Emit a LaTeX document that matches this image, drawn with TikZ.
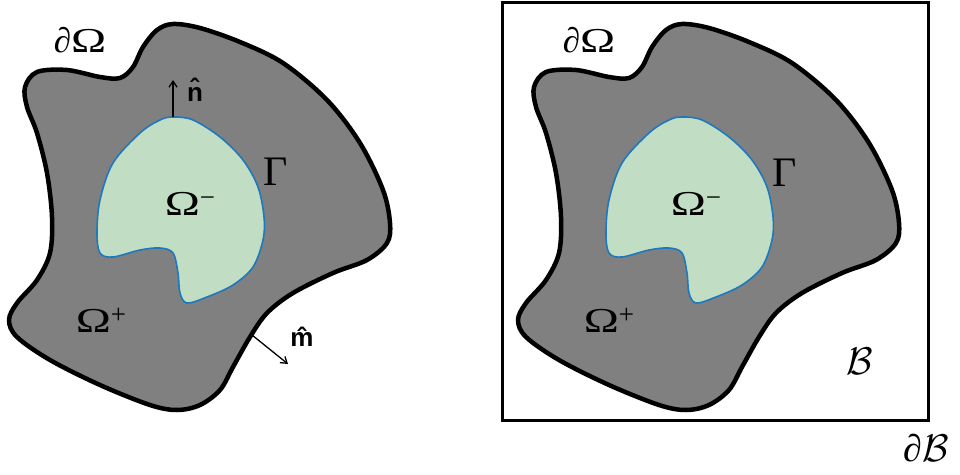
\documentclass[tikz,border=0pt]{standalone}
\usepackage{fontspec}
\setmainfont{Liberation Serif}
\newfontfamily\hatfont{Liberation Sans}
\usetikzlibrary{arrows.meta}
\definecolor{blobgray}{RGB}{128,128,128}
\definecolor{paleg}{RGB}{193,222,196}
\definecolor{rimblue}{RGB}{30,120,190}
\newcommand\Om{\scalebox{1.35}[1]{Ω}}
\newcommand\supsc[1]{\raisebox{9pt}{\fontsize{27}{27}\selectfont #1}}
\newcommand\calB{\scalebox{1.55}{\fontsize{24}{24}\selectfont$\mathcal{B}$}}
\tikzset{
  outer/.style={draw=black, line width=4.5pt, fill=blobgray, line join=round},
  inner/.style={draw=rimblue, line width=1.6pt, fill=paleg},
  frame/.style={draw=black, line width=3pt},
  lab/.style={font=\fontsize{35}{35}\selectfont, inner sep=0pt},
  biglab/.style={font=\fontsize{42}{42}\selectfont, inner sep=0pt},
  calab/.style={font=\fontsize{38}{38}\selectfont, inner sep=0pt},
  hatlab/.style={font=\hatfont\bfseries\fontsize{26}{26}\selectfont, inner sep=0pt},
  vec/.style={-{Straight Barb[length=6pt,width=8pt]}, line width=1.3pt}
}
\newcommand\myouter{plot[smooth cycle, tension=0.55] coordinates {
 (25,87) (37,72) (67,70) (100,77) (120,78) (133,67) (143,47) (157,30) (173,24)
 (200,28) (240,42) (283,63) (327,100) (360,143) (383,190) (390,223) (387,243)
 (367,260) (333,273) (293,293) (267,313) (250,337) (233,367) (220,390) (200,405)
 (177,410) (150,405) (100,385) (50,360) (17,337) (9,320) (17,303) (37,280)
 (50,253) (52,217) (47,173) (37,133) (27,107)}}
\newcommand\myinner{plot[smooth cycle, tension=0.55] coordinates {
 (173,117) (193,120) (220,137) (243,160) (258,187) (264,217) (263,240) (253,267)
 (233,285) (207,297) (187,303) (180,293) (178,273) (173,253) (160,248) (140,250)
 (113,257) (100,253) (97,233) (100,200) (113,163) (140,133) (160,120)}}
\begin{document}
\begin{tikzpicture}[x=1pt,y=-1pt]
\useasboundingbox (0,0) rectangle (960,474);
% box of the right panel
\draw[frame] (502,2) rectangle (928,420);
% left panel
\path[outer] \myouter;
\path[inner] \myinner;
% right panel
\begin{scope}[shift={(509,0)}]
\path[outer] \myouter;
\path[inner] \myinner;
\end{scope}
% normal vectors
\coordinate (nstart) at (173,117);
\coordinate (nend) at (173,80);
\coordinate (mstart) at (252,335);
\coordinate (mend) at (288,364);
\draw[vec] (nstart) -- (nend);
\draw[vec] (mstart) -- (mend);
% labels left
\node[lab] (dOmL) at (80,40) {∂\Om};
\node[biglab] (GamL) at (276,172) {Γ};
\node[lab] (OmmL) at (190,204) {\Om\supsc{−}};
\node[lab] (OmpL) at (101,320) {\Om\supsc{+}};
\node[hatlab] (nhat) at (195,90) {\^{n}};
\node[hatlab] (mhat) at (302,337) {\^{m}};
% labels right
\node[lab] (dOmR) at (589,40) {∂\Om};
\node[biglab] (GamR) at (785,173) {Γ};
\node[lab] (OmmR) at (696,204) {\Om\supsc{−}};
\node[lab] (OmpR) at (609,320) {\Om\supsc{+}};
\node[calab] (BR) at (860,361) {\calB};
\node[calab] (dBR) at (926,448) {∂\calB};
\end{tikzpicture}
\end{document}
